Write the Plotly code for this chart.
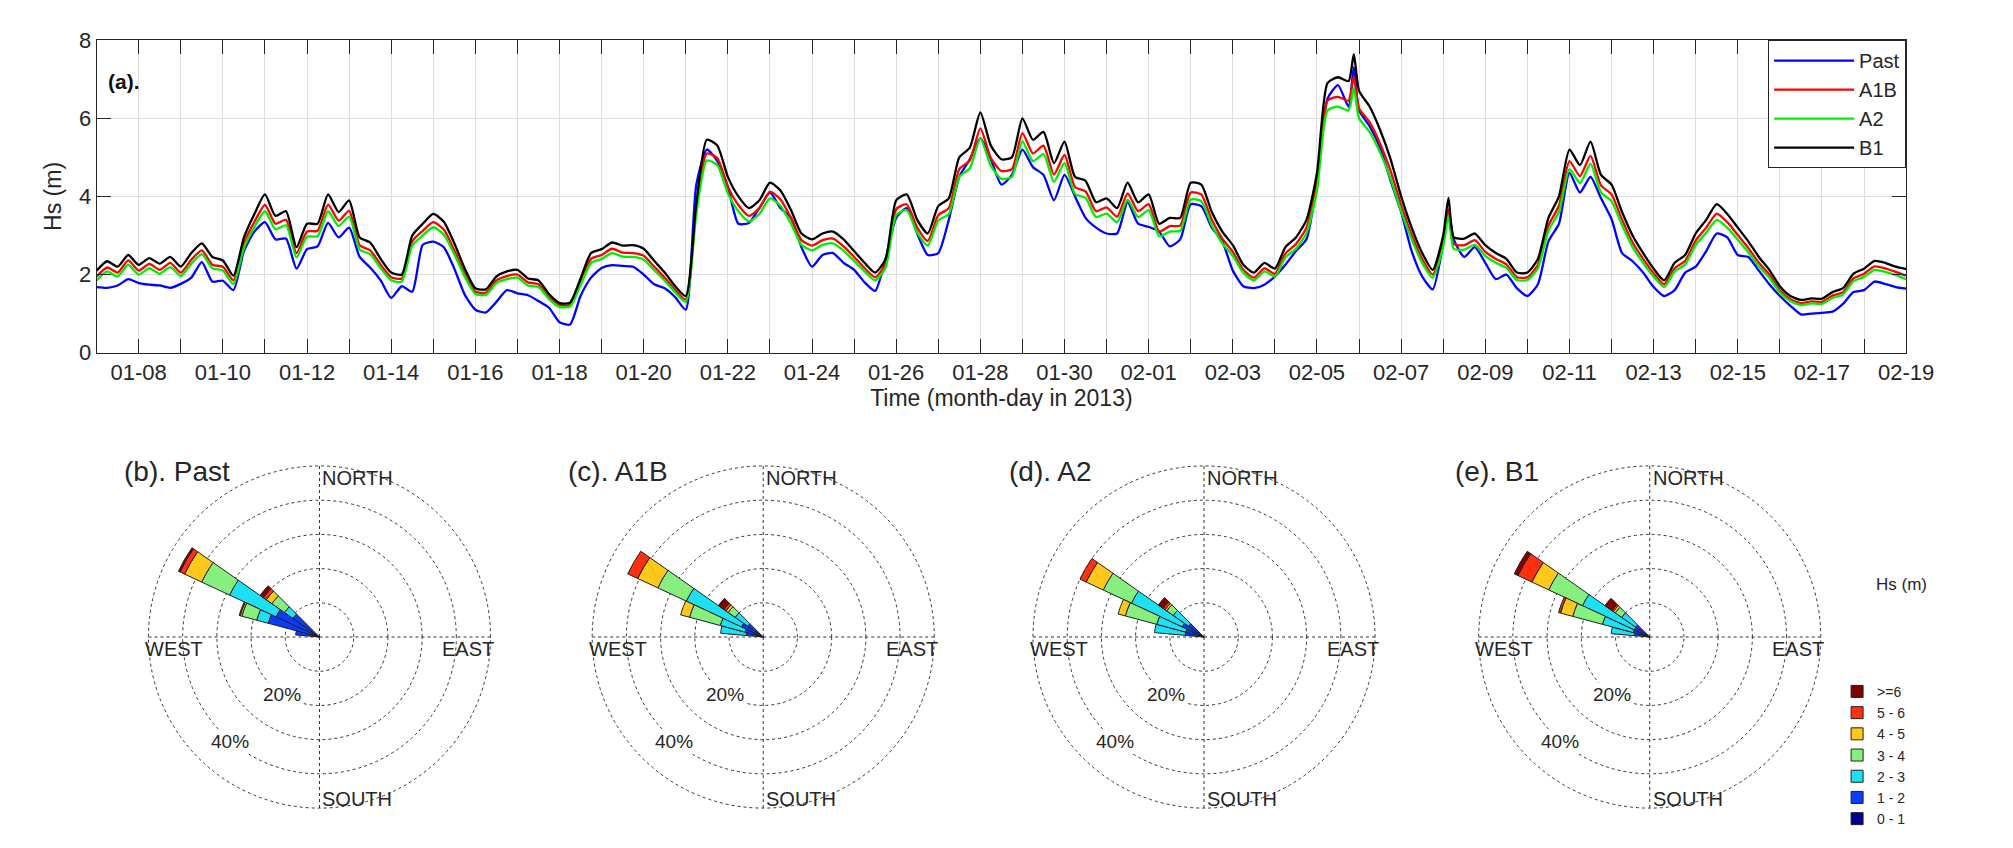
import numpy as np
import pandas as pd
import plotly.graph_objects as go

W, H = 2013, 848
FONT = "Arial, Liberation Sans, sans-serif"

# ---------------- time series data (6-hourly + two extra peak samples) ----------------
start = pd.Timestamp("2013-01-07")
day_offset = sorted(list(np.arange(0, 43.001, 0.25)) + [29.875, 32.125])

hs_past = [
    1.68, 1.66, 1.72, 1.88,  1.78, 1.74, 1.72, 1.66,  1.76, 1.92, 2.32, 1.82,
    1.84, 1.60, 2.60, 3.10,  3.34, 2.90, 2.92, 2.15,  2.65, 2.72, 3.32, 2.95,
    3.20, 2.45, 2.18, 1.85,  1.40, 1.70, 1.56, 2.76,  2.84, 2.70, 2.15, 1.48,
    1.10, 1.03, 1.30, 1.60,  1.52, 1.47, 1.32, 1.15,  0.78, 0.72, 1.45, 1.92,
    2.17, 2.24, 2.22, 2.20,  2.00, 1.75, 1.65, 1.42,  1.10, 4.30, 5.20, 4.90,
    4.25, 3.30, 3.32, 3.70,  4.10, 3.70, 3.45, 2.70,  2.20, 2.50, 2.55, 2.30,
    2.12, 1.80, 1.58, 2.40,  3.45, 3.70, 3.05, 2.50,  2.55, 3.40, 4.50, 4.95,
    5.49, 4.95, 4.30, 4.55,  5.20, 4.75, 4.55, 3.90,  4.55, 4.00, 3.45, 3.20,
    3.05, 3.05, 3.85, 3.30,  3.22, 3.10, 2.72, 2.90,  3.80, 3.75, 3.20, 2.85,
    2.10, 1.70, 1.65, 1.74,  1.95, 2.25, 2.60, 2.90,  4.40, 6.50, 6.85, 6.30, 7.30,
    6.20, 5.80, 5.25, 4.40,  3.60, 2.60, 1.95, 1.62,  2.80, 3.65, 2.90, 2.45, 2.70,
    2.30, 1.88, 2.00, 1.65,  1.45, 1.75, 2.85, 3.30,  4.60, 4.10, 4.50, 3.95,
    3.42, 2.55, 2.34, 2.05,  1.68, 1.45, 1.60, 2.05,  2.20, 2.60, 3.05, 2.95,
    2.50, 2.45, 2.10, 1.75,  1.45, 1.20, 0.98, 1.00,  1.02, 1.05, 1.25, 1.55,
    1.60, 1.82, 1.76, 1.68,  1.64,
]
hs_a1b = [
    1.95, 2.18, 2.05, 2.36,  2.10, 2.27, 2.12, 2.30,  2.05, 2.38, 2.62, 2.25,
    2.20, 1.85, 2.80, 3.35,  3.78, 3.30, 3.40, 2.55,  3.10, 3.12, 3.79, 3.38,
    3.63, 2.75, 2.62, 2.25,  1.93, 1.90, 2.85, 3.12,  3.34, 3.15, 2.62, 2.02,
    1.56, 1.54, 1.85, 1.96,  2.00, 1.80, 1.75, 1.42,  1.22, 1.23, 1.80, 2.40,
    2.50, 2.66, 2.56, 2.55,  2.48, 2.20, 1.92, 1.60,  1.36, 3.70, 5.10, 4.98,
    4.25, 3.78, 3.50, 3.70,  4.12, 3.92, 3.45, 2.88,  2.74, 2.88, 2.92, 2.72,
    2.45, 2.16, 1.93, 2.28,  3.67, 3.80, 3.20, 2.86,  3.52, 3.70, 4.70, 4.92,
    5.74, 4.98, 4.65, 4.70,  5.62, 5.10, 5.30, 4.56,  5.06, 4.24, 4.13, 3.62,
    3.72, 3.48, 4.08, 3.62,  3.80, 3.10, 3.24, 3.25,  4.10, 4.05, 3.40, 2.92,
    2.58, 2.12, 1.92, 2.16,  2.02, 2.54, 2.78, 3.20,  4.35, 6.45, 6.55, 6.45, 7.06,
    6.25, 5.90, 5.35, 4.65,  3.78, 3.02, 2.40, 2.00,  2.85, 3.67, 2.78, 2.75, 2.88,
    2.58, 2.40, 2.26, 1.93,  1.93, 2.25, 3.25, 3.76,  4.90, 4.52, 5.04, 4.28,
    4.05, 3.40, 2.82, 2.40,  2.03, 1.75, 2.16, 2.35,  2.87, 3.20, 3.56, 3.34,
    3.01, 2.68, 2.30, 2.00,  1.60, 1.37, 1.27, 1.31,  1.30, 1.46, 1.55, 1.90,
    2.02, 2.21, 2.16, 2.07,  1.97,
]
hs_a2 = [
    1.85, 2.08, 1.95, 2.25,  2.00, 2.16, 2.02, 2.19,  1.96, 2.28, 2.52, 2.16,
    2.10, 1.76, 2.68, 3.22,  3.62, 3.16, 3.26, 2.44,  2.97, 2.98, 3.62, 3.24,
    3.48, 2.64, 2.52, 2.16,  1.85, 1.82, 2.74, 3.00,  3.21, 3.02, 2.52, 1.94,
    1.50, 1.48, 1.78, 1.88,  1.92, 1.72, 1.68, 1.37,  1.17, 1.18, 1.73, 2.30,
    2.40, 2.55, 2.46, 2.45,  2.38, 2.11, 1.84, 1.54,  1.30, 3.55, 4.92, 4.80,
    4.08, 3.62, 3.36, 3.55,  3.95, 3.76, 3.30, 2.76,  2.62, 2.76, 2.80, 2.61,
    2.35, 2.08, 1.85, 2.18,  3.52, 3.65, 3.07, 2.74,  3.38, 3.55, 4.50, 4.72,
    5.49, 4.78, 4.45, 4.50,  5.41, 4.90, 5.08, 4.37,  4.86, 4.06, 3.96, 3.47,
    3.56, 3.34, 3.92, 3.47,  3.65, 2.98, 3.10, 3.12,  3.92, 3.88, 3.26, 2.80,
    2.48, 2.04, 1.85, 2.08,  1.95, 2.44, 2.66, 3.06,  4.15, 6.20, 6.30, 6.20, 6.77,
    6.00, 5.65, 5.12, 4.45,  3.62, 2.90, 2.30, 1.92,  2.72, 3.50, 2.66, 2.64, 2.76,
    2.48, 2.30, 2.17, 1.86,  1.86, 2.16, 3.12, 3.60,  4.70, 4.34, 4.83, 4.10,
    3.88, 3.26, 2.70, 2.30,  1.95, 1.68, 2.08, 2.26,  2.76, 3.07, 3.40, 3.20,
    2.89, 2.57, 2.21, 1.92,  1.54, 1.32, 1.22, 1.26,  1.25, 1.40, 1.49, 1.83,
    1.94, 2.12, 2.07, 1.99,  1.88,
]
hs_b1 = [
    2.10, 2.34, 2.20, 2.50,  2.25, 2.42, 2.28, 2.45,  2.20, 2.55, 2.80, 2.45,
    2.36, 1.97, 2.95, 3.55,  4.05, 3.50, 3.62, 2.70,  3.30, 3.30, 4.05, 3.60,
    3.90, 2.95, 2.82, 2.40,  2.05, 2.00, 3.00, 3.30,  3.55, 3.35, 2.80, 2.15,
    1.65, 1.62, 1.95, 2.08,  2.12, 1.90, 1.85, 1.50,  1.27, 1.28, 1.90, 2.55,
    2.65, 2.82, 2.74, 2.75,  2.66, 2.35, 2.05, 1.70,  1.45, 3.80, 5.45, 5.30,
    4.50, 4.00, 3.70, 3.90,  4.35, 4.15, 3.65, 3.05,  2.90, 3.05, 3.10, 2.90,
    2.60, 2.30, 2.05, 2.40,  3.90, 4.05, 3.40, 3.05,  3.75, 3.95, 5.00, 5.25,
    6.15, 5.30, 4.95, 5.00,  6.00, 5.45, 5.65, 4.85,  5.40, 4.50, 4.40, 3.85,
    3.95, 3.70, 4.35, 3.85,  4.05, 3.30, 3.45, 3.45,  4.35, 4.30, 3.60, 3.10,
    2.75, 2.25, 2.05, 2.30,  2.15, 2.70, 2.95, 3.40,  4.60, 6.90, 7.05, 6.95, 7.64,
    6.70, 6.30, 5.70, 4.95,  4.00, 3.20, 2.55, 2.12,  3.00, 3.96, 2.95, 2.92, 3.05,
    2.75, 2.55, 2.40, 2.05,  2.05, 2.40, 3.45, 4.00,  5.20, 4.80, 5.40, 4.55,
    4.30, 3.60, 3.00, 2.55,  2.15, 1.85, 2.30, 2.50,  3.05, 3.40, 3.80, 3.55,
    3.20, 2.85, 2.45, 2.12,  1.70, 1.45, 1.35, 1.39,  1.38, 1.55, 1.65, 2.02,
    2.15, 2.35, 2.30, 2.20,  2.14,
]

series_names = ["Past", "A1B", "A2", "B1"]
series_colors = ["#0000ff", "#ff0000", "#00ee00", "#000000"]
series_values = [hs_past, hs_a1b, hs_a2, hs_b1]

# ---------------- wave rose data (% occurrence per direction sector & Hs bin) ----------------
directions = [280, 290, 300, 310]          # sector centres, degrees from north (clockwise)
hs_bins = ["0 - 1", "1 - 2", "2 - 3", "3 - 4", "4 - 5", "5 - 6", ">=6"]
bin_colors = ["#00008f", "#0a3cff", "#1ee0f5", "#86ef7e", "#ffc81a", "#ff3010", "#800000"]

rose_past = [
    [2.0, 2.0, 1.5, 1.5],
    [5.0, 13.5, 12.5, 8.0],
    [0.0, 3.5, 15.0, 3.0],
    [0.0, 4.5, 9.0, 4.5],
    [0.0, 0.5, 5.5, 2.0],
    [0.0, 0.3, 1.5, 1.0],
    [0.0, 0.0, 0.5, 1.2],
]
rose_a1b = [
    [1.5, 1.5, 2.0, 1.5],
    [3.5, 4.0, 5.0, 4.0],
    [7.5, 7.5, 17.8, 4.5],
    [0.0, 9.3, 9.2, 2.5],
    [0.0, 2.7, 6.5, 0.8],
    [0.0, 0.0, 3.2, 0.7],
    [0.0, 0.0, 0.0, 2.0],
]
rose_a2 = [
    [1.5, 1.5, 2.0, 1.5],
    [4.0, 4.0, 5.0, 4.0],
    [9.0, 8.8, 16.4, 5.5],
    [0.0, 9.5, 9.1, 2.3],
    [0.0, 2.2, 5.5, 0.6],
    [0.0, 0.0, 2.0, 0.7],
    [0.0, 0.0, 0.0, 1.7],
]
rose_b1 = [
    [1.5, 1.5, 1.5, 1.5],
    [3.0, 3.5, 3.5, 3.5],
    [6.8, 9.3, 16.7, 5.0],
    [0.0, 9.0, 10.9, 2.3],
    [0.0, 3.7, 5.4, 0.7],
    [0.0, 0.6, 4.5, 0.5],
    [0.0, 0.0, 1.2, 2.5],
]
rose_titles = ["(b). Past", "(c). A1B", "(d). A2", "(e). B1"]
rose_data = [rose_past, rose_a1b, rose_a2, rose_b1]
ring_values = [10, 20, 30, 40, 50]
ring_labels = {20: "20%", 40: "40%"}

# ---------------- figure ----------------
times = start + pd.to_timedelta(day_offset, unit="D")
fig = go.Figure()

for name, col, vals in zip(series_names, series_colors, series_values):
    assert len(vals) == len(day_offset), (name, len(vals), len(day_offset))
    fig.add_trace(go.Scatter(
        x=times, y=vals, name=name, mode="lines",
        line=dict(color=col, width=2.3, shape="spline", smoothing=0.6),
        xaxis="x", yaxis="y", legend="legend",
    ))

polar_ids = ["polar", "polar2", "polar3", "polar4"]
for k, (pid, data) in enumerate(zip(polar_ids, rose_data)):
    for b, (lab, col) in enumerate(zip(hs_bins, bin_colors)):
        fig.add_trace(go.Barpolar(
            r=data[b], theta=directions, width=10, name=lab,
            marker=dict(color=col, line=dict(color="#202020", width=1)),
            subplot=pid, showlegend=(k == 0), legend="legend2",
        ))

# ---- layout geometry (pixels -> paper) ----
x0, x1 = 98, 1933
y_top, y_bot = 29, 351
centers_x = [324, 774, 1221, 1673]
cy, R = 644, 178
r_max = 50.5

day_ticks = pd.date_range("2013-01-07", "2013-02-19", freq="D")
tick_text = [d.strftime("%m-%d") if i % 2 == 1 else "" for i, d in enumerate(day_ticks)]

axis_col = "#262626"
layout = dict(
    width=W, height=H,
    margin=dict(l=0, r=0, t=0, b=0),
    paper_bgcolor="white", plot_bgcolor="white",
    font=dict(family=FONT, color="#262626"),
    xaxis=dict(
        domain=[x0 / W, x1 / W], anchor="y", type="date",
        range=["2013-01-07", "2013-02-19"],
        tickvals=list(day_ticks), ticktext=tick_text,
        ticks="inside", ticklen=14, tickwidth=1.2, tickcolor=axis_col,
        showline=True, linecolor=axis_col, linewidth=1.2, mirror="ticks",
        showgrid=True, gridcolor="#dedede", gridwidth=1,
        tickfont=dict(size=22, family=FONT, color="#262626"),
        title=dict(text="Time (month-day in 2013)", font=dict(size=23, family=FONT), standoff=2),
        zeroline=False,
    ),
    yaxis=dict(
        domain=[1 - y_bot / H, 1 - y_top / H], anchor="x",
        range=[0, 8], tickvals=[0, 2, 4, 6, 8],
        ticks="inside", ticklen=14, tickwidth=1.2, tickcolor=axis_col,
        showline=True, linecolor=axis_col, linewidth=1.2, mirror="ticks",
        showgrid=True, gridcolor="#dedede", gridwidth=1,
        tickfont=dict(size=22, family=FONT, color="#262626"),
        title=dict(text="Hs (m)", font=dict(size=23, family=FONT), standoff=10),
        zeroline=False,
    ),
    legend=dict(
        x=x1 / W, xanchor="right", y=1 - y_top / H, yanchor="top",
        bgcolor="white", bordercolor=axis_col, borderwidth=1,
        font=dict(size=20, family=FONT, color="#262626"),
        itemwidth=80, tracegroupgap=0,
    ),
    legend2=dict(
        x=1863 / W, xanchor="left", y=1 - 684 / H, yanchor="top",
        bgcolor="rgba(0,0,0,0)", borderwidth=0,
        font=dict(size=14, family=FONT, color="#262626"),
        traceorder="reversed", itemwidth=30, tracegroupgap=0,
    ),
)

annotations = [
    dict(text="<b>(a).</b>", x=107 / W, y=1 - 72 / H, xref="paper", yref="paper",
         xanchor="left", yanchor="middle", showarrow=False, font=dict(size=21, family=FONT, color="#111")),
    dict(text="Hs (m)", x=1928 / W, y=1 - 590 / H, xref="paper", yref="paper",
         xanchor="center", yanchor="middle", showarrow=False, font=dict(size=17, family=FONT, color="#262626")),
]

label_angle = {20: 213.0, 40: 220.0}   # compass direction where ring labels sit
for k, (pid, cx, title) in enumerate(zip(polar_ids, centers_x, rose_titles)):
    layout[pid] = dict(
        domain=dict(x=[(cx - R) / W, (cx + R) / W], y=[1 - (cy + R) / H, 1 - (cy - R) / H]),
        bgcolor="white", barmode="stack",
        angularaxis=dict(
            rotation=90, direction="clockwise", tickvals=[0, 90, 180, 270],
            showticklabels=False, ticks="", showline=False,
            gridcolor="#333333", griddash="dot", gridwidth=1,
        ),
        radialaxis=dict(
            range=[0, r_max], tickvals=ring_values, showticklabels=False,
            showline=False, ticks="",
            gridcolor="#333333", griddash="dot", gridwidth=1,
        ),
    )
    annotations.append(dict(text=title, x=(cx - R - 22) / W, y=1 - 473 / H, xref="paper", yref="paper",
                            xanchor="left", yanchor="middle", showarrow=False,
                            font=dict(size=28, family=FONT, color="#262626")))
    lab_font = dict(size=20, family=FONT, color="#262626")
    new = [
        dict(text="NORTH", x=(cx + 1) / W, y=1 - (cy - 164) / H, xanchor="left", yanchor="middle"),
        dict(text="SOUTH", x=(cx + 1) / W, y=1 - (cy + 167) / H, xanchor="left", yanchor="middle"),
        dict(text="WEST", x=(cx - 179) / W, y=1 - (cy + 12) / H, xanchor="left", yanchor="middle"),
        dict(text="EAST", x=(cx + 179) / W, y=1 - (cy + 12) / H, xanchor="right", yanchor="middle"),
    ]
    # ring labels placed on their ring along the SSW direction
    for val, txt in ring_labels.items():
        rp = val / r_max * R
        ang = np.deg2rad(label_angle[val])
        px = cx + rp * np.sin(ang)
        py = cy - rp * np.cos(ang)
        new.append(dict(text=txt, x=px / W, y=1 - py / H, xanchor="center", yanchor="middle",
                        bgcolor="white"))
    for a in new:
        a.update(xref="paper", yref="paper", showarrow=False, font=dict(lab_font))
    new[-1]["font"]["size"] = 19
    new[-2]["font"]["size"] = 19
    annotations += new

layout["annotations"] = annotations
fig.update_layout(**layout)
fig.write_html("out.html")
